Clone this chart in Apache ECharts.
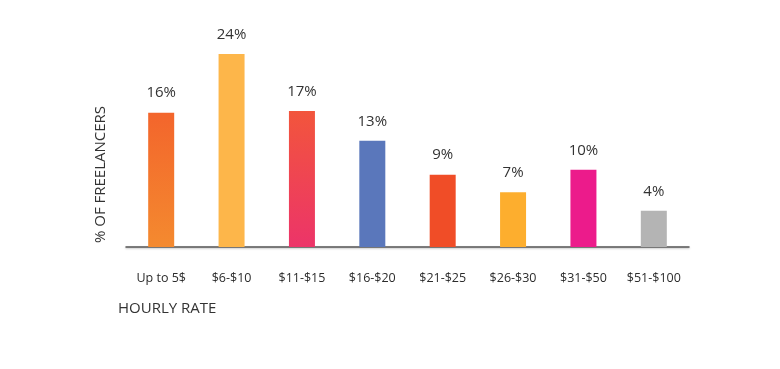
<!DOCTYPE html>
<html>
<head>
<meta charset="utf-8">
<script src="https://cdn.jsdelivr.net/npm/echarts@6/dist/echarts.min.js"></script>
<style>html,body{margin:0;padding:0;background:#fff;}#c{width:780px;height:369px;}</style>
</head>
<body>
<div id="c"></div>
<script>
var categories = ["Up to 5$", "$6-$10", "$11-$15", "$16-$20", "$21-$25", "$26-$30", "$31-$50", "$51-$100"];
var values = [16.7, 24.0, 16.9, 13.2, 9.0, 6.8, 9.6, 4.5];
var valueLabels = ["16%", "24%", "17%", "13%", "9%", "7%", "10%", "4%"];
var barColors = [
  ["#F3652C", "#F48A2F"],
  ["#FDB64A", "#FDB64A"],
  ["#F2553C", "#EC3469"],
  ["#5A77BB", "#5A77BB"],
  ["#F04D27", "#F04D27"],
  ["#FDAE2E", "#FDAE2E"],
  ["#EC1B8B", "#EC1B8B"],
  ["#B4B4B4", "#B4B4B4"]
];

var chart = echarts.init(document.getElementById('c'), null, {renderer: 'canvas'});
var font = '"Open Sans", "Noto Sans", sans-serif';
chart.setOption({
  animation: false,
  title: {
    text: 'HOURLY RATE',
    left: 118,
    top: 301,
    padding: 0,
    textStyle: {color: '#333', fontSize: 15, fontWeight: 'normal', fontFamily: font}
  },
  grid: {left: 126, right: 91, top: 46, bottom: 122},
  xAxis: {
    type: 'category',
    data: categories,
    axisLine: {show: true, lineStyle: {color: '#555', width: 1.5, shadowColor: 'rgba(0,0,0,0.25)', shadowBlur: 2, shadowOffsetY: 1}},
    axisTick: {show: false},
    axisLabel: {color: '#2b2b2b', fontSize: 12.5, fontFamily: font, margin: 25}
  },
  yAxis: {
    type: 'value',
    min: 0,
    max: 25,
    show: true,
    axisLine: {show: false},
    axisTick: {show: false},
    axisLabel: {show: false},
    splitLine: {show: false},
    name: '% OF FREELANCERS',
    nameLocation: 'middle',
    nameRotate: 90,
    nameGap: 18,
    nameTextStyle: {color: '#333', fontSize: 15, fontFamily: font, padding: [0, 56, 0, 0]}
  },
  series: [{
    type: 'bar',
    barWidth: 26,
    data: values.map(function (v, i) {
      return {
        value: v,
        itemStyle: {
          color: new echarts.graphic.LinearGradient(0, 0, 0, 1, [
            {offset: 0, color: barColors[i][0]},
            {offset: 1, color: barColors[i][1]}
          ])
        },
        label: {formatter: valueLabels[i]}
      };
    }),
    label: {
      show: true,
      position: 'top',
      distance: 12,
      color: '#333',
      fontSize: 15,
      fontFamily: font
    }
  }]
});
</script>
</body>
</html>
